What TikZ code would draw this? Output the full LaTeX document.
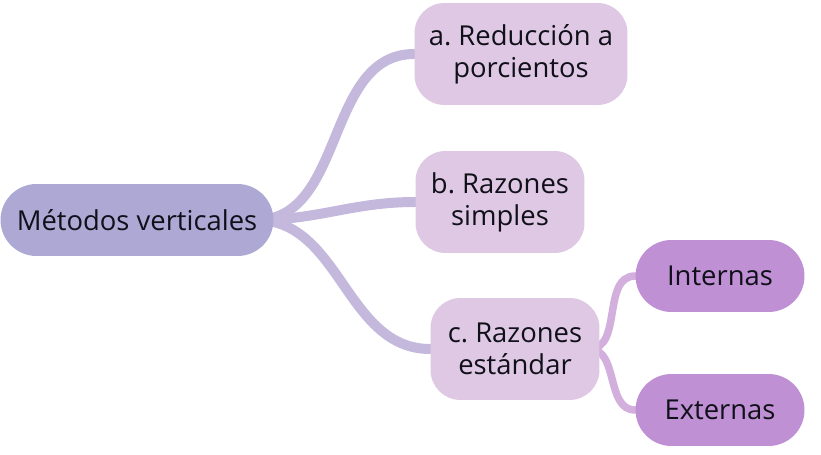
\documentclass[tikz,border=0pt]{standalone}
\usepackage{fontspec}
\setmainfont{Open Sans}
\usetikzlibrary{positioning,backgrounds}
\definecolor{rootfill}{HTML}{ADA8D4}
\definecolor{subfill}{HTML}{DFC8E3}
\definecolor{leaffill}{HTML}{C090D4}
\definecolor{rootlink}{HTML}{C4B9DC}
\definecolor{sublink}{HTML}{D2AFDC}
\definecolor{boxtext}{HTML}{10101A}
\frenchspacing

\begin{document}
\begin{tikzpicture}[x=0.02cm, y=-0.02cm,
    box/.style={inner sep=0pt, align=center, text=boxtext,
        font=\fontsize{15.6}{18.2}\selectfont},
    rootbox/.style={box, fill=rootfill, rounded corners=0.72cm,
        minimum width=5.46cm, minimum height=1.44cm},
    subbox/.style={box, fill=subfill, rounded corners=0.6cm,
        minimum height=2.04cm},
    leafbox/.style={box, fill=leaffill, rounded corners=0.72cm,
        minimum width=3.38cm, minimum height=1.44cm},
    link/.style={line width=0.2cm, rootlink, line cap=round},
    sublinkstyle/.style={line width=0.15cm, sublink, line cap=round}]
    \useasboundingbox (0,0) rectangle (821,455);

    % Central topic
    \node[rootbox] (root) at (137,220) {Métodos verticales};

    % First level
    \node[subbox, minimum width=4.26cm] (red) at (521,54) {a. Reducción a\\porcientos};
    \node[subbox, minimum width=3.38cm] (simp) at (500,202) {b. Razones\\simples};
    \node[subbox, minimum width=3.38cm] (est) at (515,349) {c. Razones\\estándar};

    % Second level
    \node[leafbox] (int) at (720,276) {Internas};
    \node[leafbox] (ext) at (720,410) {Externas};

    % Branches behind the boxes
    \begin{scope}[on background layer]
        \draw[link] ([xshift=-10pt]root.east) to[out=0, in=180] (red.west);
        \draw[link] ([xshift=-10pt]root.east) to[out=0, in=180] (simp.west);
        \draw[link] ([xshift=-10pt]root.east) to[out=0, in=180] (est.west);
        \draw[sublinkstyle] ([xshift=-6pt]est.east) to[out=0, in=180] (int.west);
        \draw[sublinkstyle] ([xshift=-6pt]est.east) to[out=0, in=180] (ext.west);
    \end{scope}
\end{tikzpicture}
\end{document}
